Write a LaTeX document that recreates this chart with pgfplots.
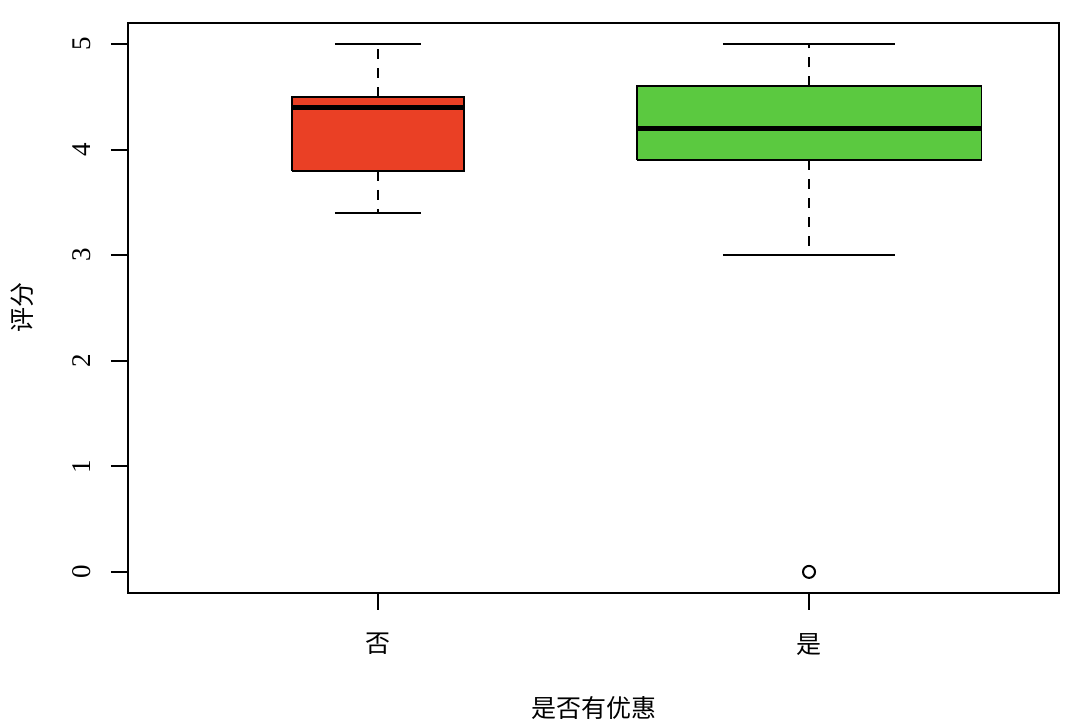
\documentclass[border=0pt]{standalone}
\usepackage{fontspec}
\setmainfont{Liberation Serif}
\newfontfamily\cjk{Noto Sans CJK SC}
\usepackage{pgfplots}
\pgfplotsset{compat=1.18}
\definecolor{boxred}{HTML}{EA4025}
\definecolor{boxgreen}{HTML}{5BC940}

\begin{document}
\begin{tikzpicture}
\begin{axis}[
  scale only axis,
  width=465.5pt, height=285pt,
  xmin=0.42, xmax=2.58,
  ymin=-0.2, ymax=5.2,
  xtick={1,2},
  xticklabels={否,是},
  ytick={0,1,2,3,4,5},
  tick align=outside,
  tick pos=left,
  major tick length=8.5pt,
  axis line style={line width=0.9pt},
  every tick/.style={line width=0.9pt, black},
  /pgf/number format/assume math mode=true,
  xticklabel style={font=\cjk\fontsize{12.5}{14}\selectfont, anchor=north, inner sep=0pt, yshift=-11.5pt},
  yticklabel style={font=\fontsize{13.5}{16}\selectfont, xshift=-10pt, rotate=90, anchor=south, inner sep=0pt},
  xlabel={是否有优惠},
  ylabel={评分},
  xlabel style={font=\cjk\fontsize{12.5}{14}\selectfont, at={(axis description cs:0.5,0)}, anchor=center, yshift=-57.5pt},
  ylabel style={font=\cjk\fontsize{12.5}{14}\selectfont, at={(axis description cs:0,0.5)}, anchor=center, yshift=53pt},
  whisk/.style={black, line width=0.85pt, dash pattern=on 5pt off 4.5pt},
  cap/.style={black, line width=0.9pt},
  med/.style={black, line width=2.4pt},
  boxs/.style={draw=black, line width=0.9pt},
]
% 否: whiskers 3.4 / 5.0, quartiles 3.8 / 4.5, median 4.4
\addplot[whisk] coordinates {(1,4.5) (1,5.0)};
\addplot[whisk] coordinates {(1,3.8) (1,3.4)};
\addplot[cap] coordinates {(0.9,5.0) (1.1,5.0)};
\addplot[cap] coordinates {(0.9,3.4) (1.1,3.4)};
\addplot[boxs, fill=boxred] coordinates {(0.8,3.8) (1.2,3.8) (1.2,4.5) (0.8,4.5) (0.8,3.8)};
\addplot[med] coordinates {(0.8,4.4) (1.2,4.4)};
% 是: whiskers 3.0 / 5.0, quartiles 3.9 / 4.6, median 4.2, outlier 0
\addplot[whisk] coordinates {(2,4.6) (2,5.0)};
\addplot[whisk] coordinates {(2,3.9) (2,3.0)};
\addplot[cap] coordinates {(1.8,5.0) (2.2,5.0)};
\addplot[cap] coordinates {(1.8,3.0) (2.2,3.0)};
\addplot[boxs, fill=boxgreen] coordinates {(1.6,3.9) (2.4,3.9) (2.4,4.6) (1.6,4.6) (1.6,3.9)};
\addplot[med] coordinates {(1.6,4.2) (2.4,4.2)};
\addplot[only marks, mark=o, mark size=3pt, mark options={draw=black, line width=1pt}] coordinates {(2,0)};
\end{axis}
\pgfresetboundingbox
\path ([shift={(-64pt,-66.5pt)}]current axis.south west) rectangle ([shift={(10.5pt,11.5pt)}]current axis.north east);
\end{tikzpicture}
\end{document}
